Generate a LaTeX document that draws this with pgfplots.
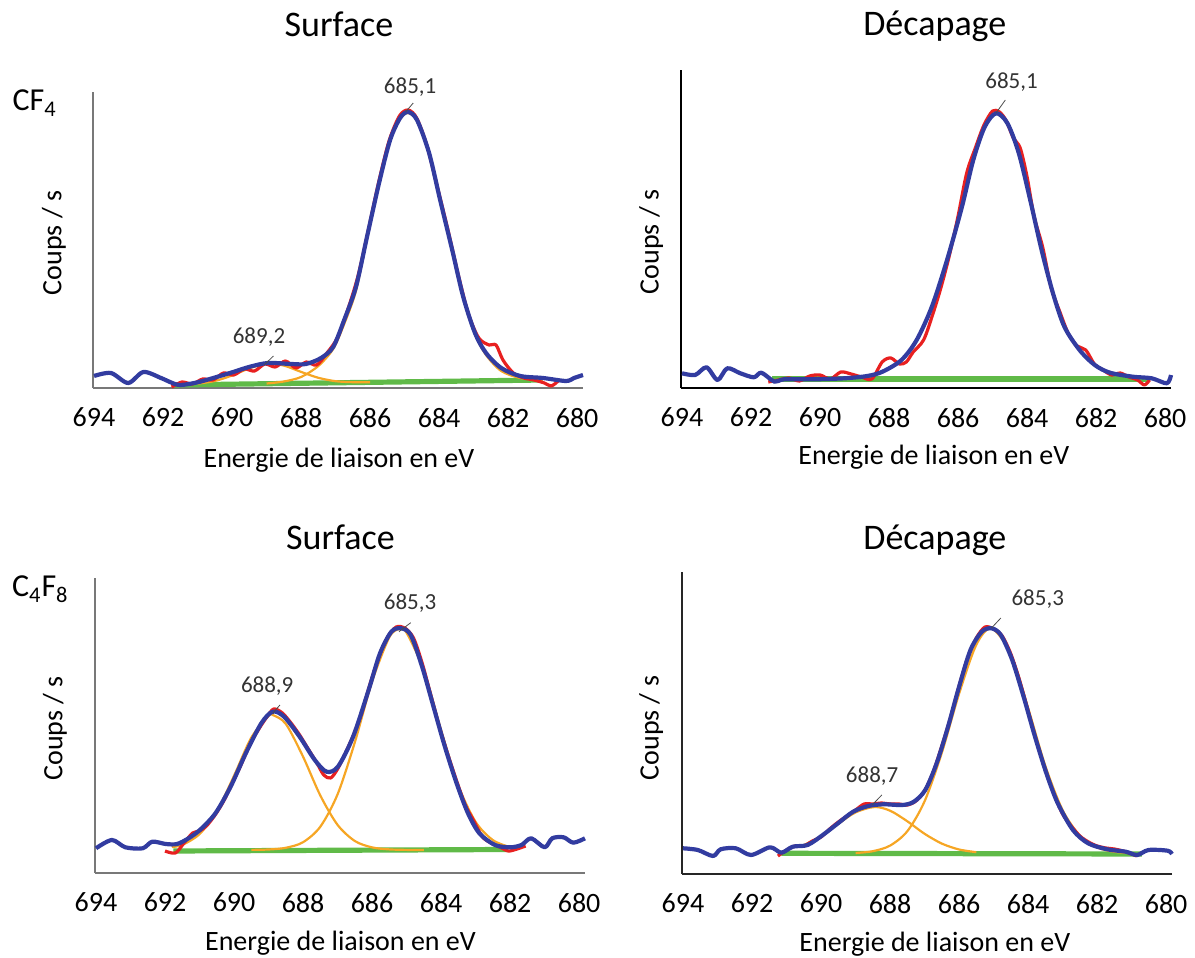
\documentclass[border=0pt]{standalone}
\usepackage{fontspec}
\setmainfont{Carlito}
\usepackage{pgfplots}
\pgfplotsset{compat=1.18}
\definecolor{cblue}{RGB}{50,60,160}
\definecolor{cred}{RGB}{232,32,32}
\definecolor{corange}{RGB}{246,166,36}
\definecolor{cgreen}{RGB}{96,186,72}
\definecolor{cgrayaxis}{RGB}{120,120,120}

\pgfplotsset{
  xps/.style={
    scale only axis, width=245pt,
    x dir=reverse, xmin=679.83, xmax=694.03, ymin=0,
    xtick={680,682,...,694}, ytick=\empty,
    axis x line*=bottom, axis y line*=left,
    tick style={draw=none},
    /pgf/number format/assume math mode=true,
    xticklabel style={font=\fontsize{14}{16}\selectfont, yshift=-6.5pt},
    label style={font=\fontsize{14}{16}\selectfont},
    xlabel={Energie de liaison en eV},
    ylabel={Coups / s},
    title style={font=\fontsize{18}{21}\selectfont, anchor=base, yshift=-6pt},
    clip=false,
  },
}
\tikzset{
  raw/.style={cred, line width=1.6pt, smooth, line join=round},
  fit/.style={cblue, line width=2.1pt, smooth, line join=round},
  comp/.style={corange, line width=1.1pt, smooth},
  base/.style={cgreen, line width=2.6pt},
  ann/.style={font=\fontsize{11.5}{13}\selectfont, text=black!80},
  lead/.style={black!70, line width=0.4pt},
  rowlab/.style={anchor=base west, inner sep=0pt, font=\fontsize{16}{19}\selectfont},
}

\begin{document}
\begin{tikzpicture}
\path[use as bounding box] (0,0) rectangle (597.5pt,479pt);

% ---------------- CF4 Surface ----------------
\begin{axis}[xps, at={(46.5pt,285pt)}, anchor=south west,
  height=148pt, ymax=296,
  axis line style={cgrayaxis, line width=0.9pt},
  title={Surface}, title style={at={(axis description cs:0.502,1.189)}},
  xlabel style={at={(axis description cs:0.502,-0.27)}, anchor=base},
  ylabel style={at={(axis description cs:-0.08,0.49)}, anchor=center}]
\addplot[base] coordinates {(691.7,3) (681.0,8)};
\addplot[comp] coordinates {(691.0,4.3) (690.5,7.0) (690.0,12.5) (689.5,19.6) (689.0,24.2) (688.5,22.4) (688.0,16.1) (687.5,10.2) (687.0,6.8) (686.5,5.8) (686.0,5.7)};
\addplot[comp] coordinates {(689.0,4.5) (688.5,6.5) (688.0,11) (687.5,22) (687.07,39) (686.75,64) (686.41,97) (686.09,150) (685.74,204) (685.42,247) (685.13,269) (684.90,275) (684.64,267) (684.29,234) (683.97,187) (683.62,137) (683.30,90) (682.96,54) (682.64,33) (682.2,17) (681.65,10) (681.0,8.3)};
\addplot[raw] coordinates {(691.75,1) (691.45,6) (691.15,4) (690.85,9) (690.55,8) (690.25,15) (689.95,13) (689.65,19) (689.35,17) (689.05,24) (688.75,21) (688.45,27) (688.15,20) (687.85,26) (687.55,23) (687.25,35) (686.95,50) (686.65,78) (686.35,112) (686.05,158) (685.75,206) (685.45,247) (685.15,272) (684.90,278) (684.65,270) (684.35,242) (684.05,201) (683.75,159) (683.45,114) (683.15,74) (682.85,50) (682.55,43) (682.35,43) (682.15,28) (681.85,15) (681.55,10) (681.25,8) (680.95,5) (680.75,2) (680.55,7)};
\addplot[fit] coordinates {(694.00,12) (693.51,15) (693.01,5) (692.57,16) (692.06,10) (691.80,6) (691.51,3) (690.96,6) (690.06,15) (689.51,21) (688.96,25) (688.29,24) (687.86,24) (687.42,30) (687.07,41) (686.75,68) (686.41,101) (686.09,151) (685.74,205) (685.42,248) (685.13,270) (684.90,276) (684.64,268) (684.29,235) (683.97,188) (683.62,138) (683.30,91) (682.96,55) (682.64,35) (682.20,20) (681.65,12) (680.99,10) (680.32,7) (680.09,10) (679.83,13)};
\node[ann] at (axis cs:684.84,301) {685,1};
\draw[lead] (axis cs:684.97,276) -- (axis cs:684.75,285);
\node[ann] at (axis cs:689.22,51) {689,2};
\draw[lead] (axis cs:689.07,23) -- (axis cs:688.80,32);
\node[rowlab] at (axis description cs:-0.165,0.936) {CF\textsubscript{4}};
\end{axis}

% ---------------- CF4 Decapage ----------------
\begin{axis}[xps, at={(340.5pt,285pt)}, anchor=south west,
  height=159pt, ymax=318,
  axis line style={black, line width=1pt},
  title={Décapage}, title style={at={(axis description cs:0.518,1.107)}},
  xlabel style={at={(axis description cs:0.516,-0.242)}, anchor=base},
  ylabel style={at={(axis description cs:-0.061,0.459)}, anchor=center}]
\addplot[base] coordinates {(691.4,9) (680.5,9)};
\addplot[raw] coordinates {(691.5,6) (691.2,8) (690.9,10) (690.6,7) (690.3,12) (690.0,13) (689.7,9) (689.4,16) (689.1,14) (688.8,11) (688.5,9) (688.2,26) (687.95,30) (687.7,24) (687.5,26) (687.3,36) (687.0,48) (686.75,72) (686.5,100) (686.25,133) (686.0,172) (685.75,215) (685.5,240) (685.25,263) (685.0,277) (684.8,276) (684.6,267) (684.4,250) (684.2,240) (684.0,211) (683.8,172) (683.55,141) (683.3,100) (683.05,76) (682.8,54) (682.55,42) (682.3,38) (682.05,24) (681.8,18) (681.55,13) (681.3,15) (681.05,11) (680.8,8) (680.6,3) (680.45,8)};
\addplot[fit] coordinates {(694.00,14.7) (693.62,13) (693.29,20.7) (692.97,8) (692.69,19.7) (692.31,14.7) (691.92,10.7) (691.70,15.3) (691.32,6.3) (691.04,8.7) (690.17,8.7) (689.29,9.7) (688.63,12) (688.19,16.3) (687.64,28) (687.20,48) (686.76,81.3) (686.32,128) (685.89,181) (685.56,228) (685.23,261) (684.90,274.7) (684.57,264.7) (684.24,234.7) (683.91,188) (683.58,138) (683.25,94.7) (682.92,61.3) (682.48,38) (682.04,23) (681.60,15.3) (680.94,11.3) (680.39,9.7) (679.95,4.7) (679.83,13)};
\node[ann] at (axis cs:684.45,306) {685,1};
\draw[lead] (axis cs:684.90,275) -- (axis cs:684.63,288);
\end{axis}

% ---------------- C4F8 Surface ----------------
\begin{axis}[xps, at={(47.5pt,42.5pt)}, anchor=south west,
  height=147.5pt, ymax=295,
  axis line style={cgrayaxis, line width=0.9pt},
  title={Surface}, title style={at={(axis description cs:0.501,1.098)}},
  xlabel style={at={(axis description cs:0.501,-0.264)}, anchor=base},
  ylabel style={at={(axis description cs:-0.082,0.49)}, anchor=center}]
\addplot[base] coordinates {(691.76,22) (682.06,23.5)};
\addplot[comp] coordinates {(691.8,26) (691.5,28.1) (691.0,38.9) (690.5,61.7) (690.0,97.3) (689.5,135.4) (689.0,157.1) (688.88,158) (688.5,149.1) (688.0,116.3) (687.5,77.5) (687.0,48.1) (686.5,32.0) (686.0,25.6) (685.5,23.6) (685.0,23.1) (684.5,23)};
\addplot[comp] coordinates {(689.5,23.1) (689.0,23.5) (688.5,25.2) (688.0,30.8) (687.5,46.3) (687.0,78.7) (686.5,130.7) (686.0,191.4) (685.5,235.8) (685.2,244) (685.0,240.2) (684.5,202.5) (684.0,142.8) (683.5,87.5) (683.0,51.1) (682.5,32.9) (682.0,25.8)};
\addplot[raw] coordinates {(692.0,22) (691.7,20) (691.45,30) (691.2,40) (691.0,42) (690.8,47) (690.55,58) (690.3,72) (690.05,90) (689.8,108) (689.55,128) (689.3,143) (689.05,156) (688.85,164) (688.6,160) (688.35,150) (688.1,138) (687.85,124) (687.6,110) (687.4,98) (687.2,95) (687.0,104) (686.8,118) (686.55,137) (686.3,160) (686.05,190) (685.8,216) (685.55,236) (685.3,246) (685.05,245) (684.8,235) (684.55,210) (684.3,178) (684.05,146) (683.8,118) (683.55,92) (683.3,68) (683.05,52) (682.8,36) (682.55,30) (682.3,26) (682.05,22) (681.8,24) (681.55,27)};
\addplot[fit] coordinates {(694.00,24.7) (693.54,33) (693.15,25.7) (692.65,24.7) (692.37,31.3) (691.98,29) (691.65,29) (691.32,34.7) (690.99,43) (690.54,59.7) (690.10,86.3) (689.66,119.7) (689.21,149.7) (688.88,161.3) (688.55,156.3) (688.10,136.3) (687.66,113) (687.32,101.3) (686.99,106.3) (686.55,136.3) (686.10,183) (685.77,219.7) (685.44,241.3) (685.16,244.7) (684.88,238) (684.55,206.3) (684.22,166.3) (683.89,126.3) (683.55,89.7) (683.22,59.7) (682.89,39.7) (682.44,28) (682.00,25.7) (681.67,28) (681.39,34.7) (681.00,25.7) (680.78,34.7) (680.45,35.7) (680.17,30.3) (679.83,34.7)};
\node[ann] at (axis cs:684.90,270) {685,3};
\draw[lead] (axis cs:685.22,241.3) -- (axis cs:684.88,250.3);
\node[ann] at (axis cs:689.04,187) {688,9};
\draw[lead] (axis cs:688.88,159.7) -- (axis cs:688.67,168);
\node[rowlab] at (axis description cs:-0.17,0.936) {C\textsubscript{4}F\textsubscript{8}};
\end{axis}

% ---------------- C4F8 Decapage ----------------
\begin{axis}[xps, at={(341pt,42pt)}, anchor=south west,
  height=151pt, ymax=302,
  axis line style={black!85, line width=1pt},
  title={Décapage}, title style={at={(axis description cs:0.516,1.076)}},
  xlabel style={at={(axis description cs:0.516,-0.255)}, anchor=base},
  ylabel style={at={(axis description cs:-0.063,0.483)}, anchor=center}]
\addplot[base] coordinates {(691.15,20.7) (680.7,20)};
\addplot[comp] coordinates {(690.5,28.9) (690.0,37.9) (689.5,50.2) (689.0,61.6) (688.45,67) (688.0,63.3) (687.5,52.7) (687.0,40.2) (686.5,30.4) (686.0,24.5) (685.5,21.8)};
\addplot[comp] coordinates {(689.0,21) (688.5,22.8) (688.0,28.4) (687.5,42.8) (687.0,72.7) (686.5,121.3) (686.0,180.3) (685.5,229.3) (685.06,245.5) (684.5,219.9) (684.0,166.1) (683.5,108) (683.0,63.9) (682.5,38.3) (682.0,26.5) (681.5,22.2) (681.0,20.9)};
\addplot[raw] coordinates {(691.25,18) (691.0,24) (690.75,28) (690.5,28) (690.25,33) (690.0,37) (689.75,45) (689.5,52) (689.25,58) (689.0,64) (688.75,70) (688.5,70) (688.25,71) (688.0,70) (687.75,70) (687.5,69) (687.25,73) (687.0,83) (686.75,102) (686.5,128) (686.25,156) (686.0,188) (685.75,216) (685.5,236) (685.25,247) (685.0,245) (684.75,238) (684.5,220) (684.25,194) (684.0,163) (683.75,132) (683.5,104) (683.25,80) (683.0,60) (682.75,48) (682.5,38) (682.25,32) (682.0,28) (681.75,26) (681.5,25) (681.25,23) (681.0,20) (680.85,18)};
\addplot[fit] coordinates {(694.00,25.7) (693.57,24) (693.13,18) (692.91,24.7) (692.47,25.7) (692.03,19) (691.48,26.7) (691.15,21.3) (690.82,27.3) (690.39,29) (689.95,39) (689.51,50.7) (689.07,62.3) (688.63,68) (688.19,69.7) (687.64,69) (687.31,72.3) (686.98,84) (686.65,110.7) (686.32,147.3) (686.00,187.3) (685.67,224) (685.34,242.3) (685.06,245.7) (684.79,239) (684.46,214) (684.13,177.3) (683.80,137.3) (683.47,100.7) (683.14,70.7) (682.70,44) (682.26,30.7) (681.71,24.7) (681.17,22.3) (680.84,19) (680.51,24) (679.96,23.3) (679.83,20)};
\node[ann] at (axis cs:683.72,275) {685,3};
\draw[lead] (axis cs:685.06,246) -- (axis cs:684.79,256);
\node[ann] at (axis cs:688.52,98) {688,7};
\draw[lead] (axis cs:688.52,69) -- (axis cs:688.24,79);
\end{axis}
\end{tikzpicture}
\end{document}
